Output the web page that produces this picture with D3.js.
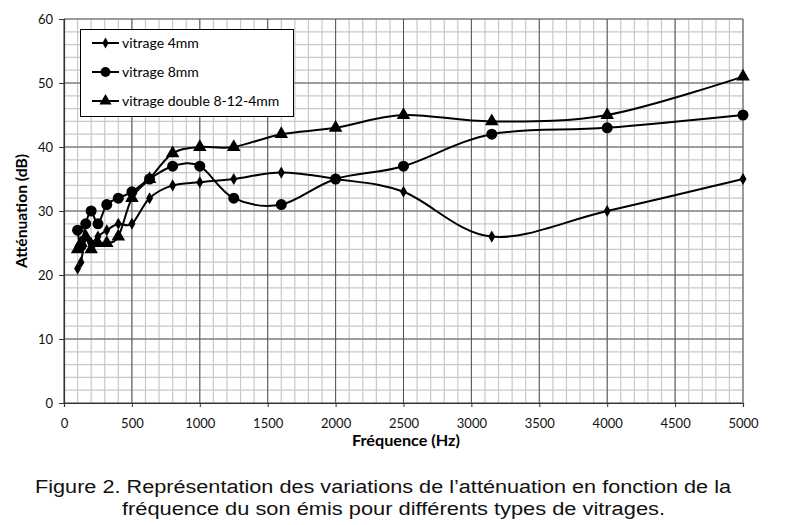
<!DOCTYPE html>
<html><head><meta charset="utf-8">
<script src="https://cdn.jsdelivr.net/npm/d3@7/dist/d3.min.js"></script>
<style>body{margin:0;background:#fff}svg{display:block}</style>
</head><body>
<svg id="c" width="790" height="525"></svg>
<script>
const frequencies = [100,125,160,200,250,315,400,500,630,800,1000,1250,1600,2000,2500,3150,4000,5000];
const vitrage4mm = [21,22,26,25,26,27,28,28,32,34,34.5,35,36,35,33,26,30,35];
const vitrage8mm = [27,24.5,28,30,28,31,32,33,35,37,37,32,31,35,37,42,43,45];
const vitrageDouble = [24,25,26,24,25,25,26,32,35,39,40,40,42,43,45,44,45,51];
const seriesNames = ["vitrage 4mm","vitrage 8mm","vitrage double 8-12-4mm"];
const xTicks = [0,500,1000,1500,2000,2500,3000,3500,4000,4500,5000];
const yTicks = [0,10,20,30,40,50,60];

const svg = d3.select("#c");
const L=64,R=743,T=19,B=403;
const x = d3.scaleLinear().domain([0,5000]).range([L,R]);
const y = d3.scaleLinear().domain([0,60]).range([B,T]);

// minor grid
const g = svg.append("g");
g.selectAll(".mx").data(d3.range(0,5001,100)).join("line")
  .attr("x1",d=>x(d)).attr("x2",d=>x(d)).attr("y1",T).attr("y2",B)
  .attr("stroke","#c8c8c8").attr("stroke-width",1.2);
g.selectAll(".my").data(d3.range(0,61,2)).join("line")
  .attr("y1",d=>y(d)).attr("y2",d=>y(d)).attr("x1",L).attr("x2",R)
  .attr("stroke","#c8c8c8").attr("stroke-width",1.2);
// major grid
g.selectAll(".Mx").data(xTicks).join("line")
  .attr("x1",d=>x(d)).attr("x2",d=>x(d)).attr("y1",T).attr("y2",B).attr("stroke","#555");
g.selectAll(".My").data(yTicks).join("line")
  .attr("y1",d=>y(d)).attr("y2",d=>y(d)).attr("x1",L).attr("x2",R).attr("stroke","#555");

// axes
const ya = svg.append("g").attr("transform",`translate(${L},0)`)
  .call(d3.axisLeft(y).tickValues(yTicks).tickSize(5).tickPadding(6));
const xa = svg.append("g").attr("transform",`translate(0,${B})`)
  .call(d3.axisBottom(x).tickValues(xTicks).tickFormat(d3.format("d")).tickSize(4).tickPadding(12));
[ya,xa].forEach(a=>{
  a.select(".domain").attr("stroke","#333").attr("stroke-width",1.2);
  a.selectAll(".tick line").attr("stroke","#333");
  a.selectAll("text").attr("font-family","Lato").attr("font-size",13).attr("fill","#111");
});

svg.append("text").attr("transform",`translate(27,${(T+B)/2}) rotate(-90)`)
  .attr("text-anchor","middle").attr("font-family","Lato").attr("font-weight","bold")
  .attr("font-size",15).attr("textLength",114).attr("lengthAdjust","spacingAndGlyphs").text("Atténuation (dB)");
svg.append("text").attr("x",406).attr("y",446).attr("text-anchor","middle")
  .attr("font-family","Lato").attr("font-weight","bold").attr("font-size",15)
  .attr("textLength",108).attr("lengthAdjust","spacingAndGlyphs").text("Fréquence (Hz)");

// series
const allSeries = [vitrage4mm, vitrage8mm, vitrageDouble];
const shapes = [d3.symbolDiamond, d3.symbolCircle, d3.symbolTriangle];
const sizes = [42, 95, 80];
const line = d3.line().x((d,i)=>x(frequencies[i])).y(d=>y(d)).curve(d3.curveCatmullRom.alpha(0));
allSeries.forEach((s,k)=>{
  svg.append("path").attr("d",line(s)).attr("fill","none").attr("stroke","#000").attr("stroke-width",2);
});
allSeries.forEach((s,k)=>{
  svg.append("g").selectAll("path").data(s).join("path")
    .attr("transform",(d,i)=>`translate(${x(frequencies[i])},${y(d)})`)
    .attr("d",d3.symbol().type(shapes[k]).size(sizes[k])).attr("fill","#000");
});

// legend
const lg = svg.append("g");
lg.append("rect").attr("x",80.5).attr("y",29.5).attr("width",213).attr("height",87)
  .attr("fill","#fff").attr("stroke","#000").attr("stroke-width",1);
seriesNames.forEach((n,k)=>{
  const yy = 43 + k*29;
  lg.append("line").attr("x1",92).attr("x2",119).attr("y1",yy).attr("y2",yy).attr("stroke","#000").attr("stroke-width",2);
  lg.append("path").attr("transform",`translate(105.5,${yy})`).attr("d",d3.symbol().type(shapes[k]).size(sizes[k]*0.8));
  lg.append("text").attr("x",122).attr("y",yy+5).attr("font-family","Lato").attr("font-size",14).text(n);
});

// caption
svg.append("text").attr("x",35).attr("y",493).attr("font-family","Liberation Sans").attr("font-size",18.8)
  .attr("fill","#111").attr("textLength",696).attr("lengthAdjust","spacingAndGlyphs")
  .text("Figure 2. Représentation des variations de l’atténuation en fonction de la");
svg.append("text").attr("x",122).attr("y",515).attr("font-family","Liberation Sans").attr("font-size",18.8)
  .attr("fill","#111").attr("textLength",543).attr("lengthAdjust","spacingAndGlyphs")
  .text("fréquence du son émis pour différents types de vitrages.");
</script>
</body></html>
